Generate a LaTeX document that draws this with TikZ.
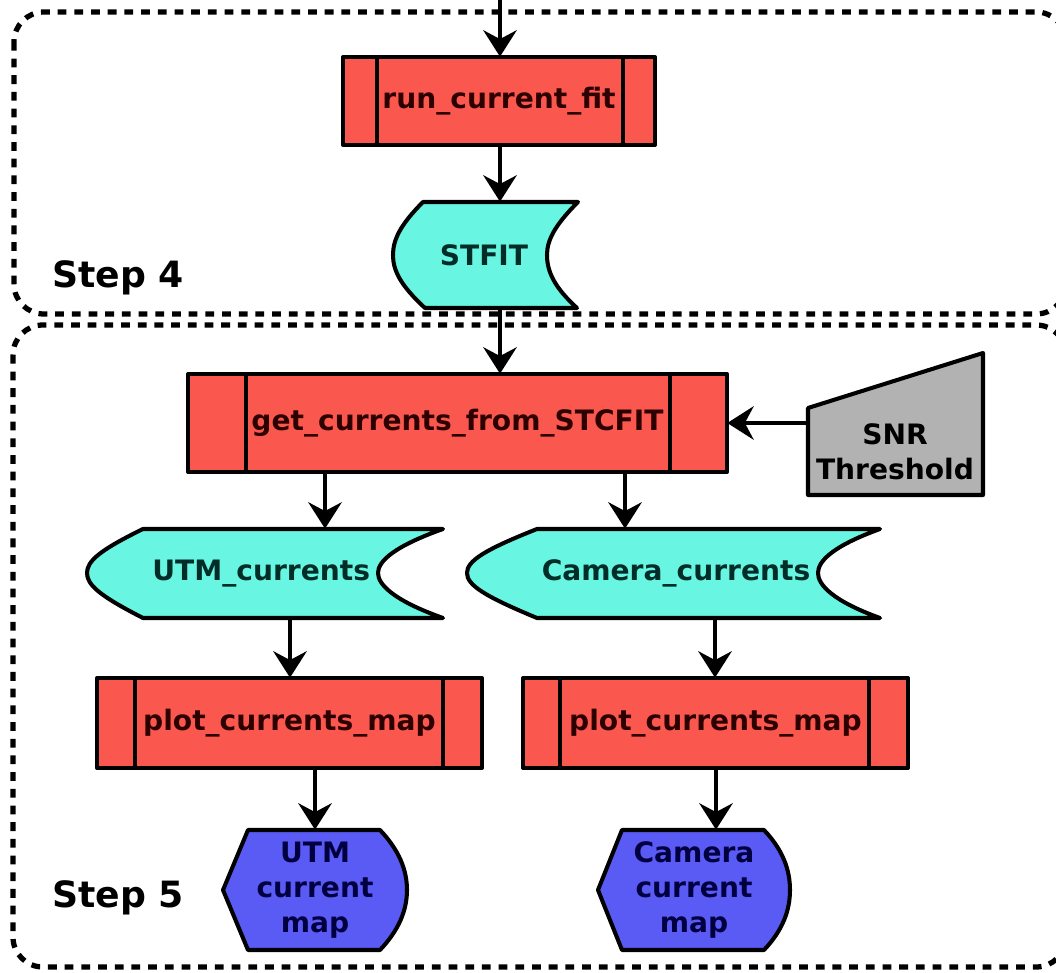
\documentclass[tikz,border=0pt]{standalone}
\usepackage{fontspec}
\setmainfont{DejaVu Sans}
\usetikzlibrary{arrows.meta}
\definecolor{boxred}{RGB}{250,88,78}
\definecolor{redtxt}{RGB}{45,0,0}
\definecolor{datacyan}{RGB}{104,245,225}
\definecolor{cyantxt}{RGB}{0,45,40}
\definecolor{dispblue}{RGB}{90,90,245}
\definecolor{bluetxt}{RGB}{0,0,65}
\definecolor{inpgray}{RGB}{178,178,178}
\begin{document}
\begin{tikzpicture}[x=0.02cm,y=-0.02cm,
  shp/.style={line width=2.3pt, draw=black, line join=round},
  proc/.style={shp, fill=boxred},
  lbl/.style={inner sep=0pt, font=\bfseries\fontsize{16pt}{20pt}\selectfont, align=center},
  steplbl/.style={inner sep=0pt, font=\bfseries\fontsize{20.6pt}{24pt}\selectfont},
  arr/.style={line width=2.3pt, -{Stealth[length=15pt,width=19pt,inset=5pt]}},
  frm/.style={line width=3pt, dash pattern=on 5pt off 4.5pt, rounded corners=17pt}]
\useasboundingbox (0,0) rectangle (1056,973);
\clip (0,0) rectangle (1056,973);

% frames
\draw[frm] (14,12) rectangle (1066,314);
\draw[frm] (13,325) rectangle (1066,967);

% ---- shapes ----
% run_current_fit
\draw[proc] (343,57) rectangle (655,145);
\draw[shp] (377,57) -- (377,145) (623,57) -- (623,145);
% STFIT
\draw[shp, fill=datacyan] (423,202) -- (578,202)
  .. controls (555,225) and (547,240) .. (547,255)
  .. controls (547,272) and (555,288) .. (577,308)
  -- (425,308)
  .. controls (400,285) and (393,270) .. (393,255)
  .. controls (393,240) and (400,225) .. (423,202) -- cycle;
% get_currents_from_STCFIT
\draw[proc] (188,374) rectangle (727,472);
\draw[shp] (246,374) -- (246,472) (670,374) -- (670,472);
% SNR threshold
\draw[shp, fill=inpgray] (808,408) -- (983,353) -- (983,495) -- (808,495) -- cycle;
% UTM_currents
\draw[shp, fill=datacyan] (143,529) -- (443,529)
  .. controls (395,546) and (378,561) .. (378,573)
  .. controls (378,585) and (395,601) .. (443,618)
  -- (143,618)
  .. controls (100,596) and (87,585) .. (87,573)
  .. controls (87,561) and (100,550) .. (143,529) -- cycle;
% Camera_currents
\draw[shp, fill=datacyan] (537,529) -- (880,529)
  .. controls (833,546) and (818,561) .. (818,573)
  .. controls (818,585) and (833,601) .. (880,618)
  -- (537,618)
  .. controls (484,596) and (467,585) .. (467,573)
  .. controls (467,561) and (484,550) .. (537,529) -- cycle;
% plot boxes
\draw[proc] (97,678) rectangle (482,768);
\draw[shp] (135,678) -- (135,768) (443,678) -- (443,768);
\draw[proc] (523,678) rectangle (908,768);
\draw[shp] (560,678) -- (560,768) (869,678) -- (869,768);
% displays
\draw[shp, fill=dispblue] (248,830) -- (380,830)
  .. controls (399,850) and (407,870) .. (407,890)
  .. controls (407,910) and (399,930) .. (380,950)
  -- (248,950) -- (223,890) -- cycle;
\draw[shp, fill=dispblue] (622,830) -- (764,830)
  .. controls (783,850) and (790,870) .. (790,890)
  .. controls (790,910) and (783,930) .. (764,950)
  -- (622,950) -- (598,890) -- cycle;

% ---- nodes (text) ----
\node[lbl, text=redtxt, minimum width=6.24cm, minimum height=1.76cm] (rcf) at (499,101) {run\_current\_fit};
\node[lbl, text=cyantxt, minimum width=3.7cm, minimum height=2.12cm] (stfit) at (484,255) {STFIT};
\node[lbl, text=redtxt, minimum width=10.78cm, minimum height=1.96cm] (gc) at (457.5,423) {get\_currents\_from\_STCFIT};
\node[lbl, text=black, minimum width=3.5cm, minimum height=2.84cm] (snr) at (895.5,424) {};
\node[lbl, text=black] (snrt) at (895,452) {SNR\\Threshold};
\node[lbl, text=cyantxt, minimum width=7.12cm, minimum height=1.78cm] (utm) at (265,573.5) {\hspace*{-0.15cm}UTM\_currents};
\node[lbl, text=cyantxt, minimum width=8.26cm, minimum height=1.78cm] (cam) at (673.5,573.5) {\hspace*{0.1cm}Camera\_currents};
\node[lbl, text=redtxt, minimum width=7.7cm, minimum height=1.8cm] (p1) at (289.5,723) {plot\_currents\_map};
\node[lbl, text=redtxt, minimum width=7.7cm, minimum height=1.8cm] (p2) at (715.5,723) {plot\_currents\_map};
\node[lbl, text=bluetxt, minimum width=3.68cm, minimum height=2.4cm] (h1) at (315,890) {UTM\\current\\map};
\node[lbl, text=bluetxt, minimum width=3.84cm, minimum height=2.4cm] (h2) at (694,890) {Camera\\current\\map};

\node[steplbl, anchor=base west] (s4) at (52,288) {Step 4};
\node[steplbl, anchor=base west] (s5) at (52,907) {Step 5};

% ---- connectors ----
\coordinate (topin) at (500,0);
\coordinate (c1) at (325,0);
\coordinate (c2) at (625,0);
\coordinate (c3) at (290,0);
\coordinate (c4) at (715,0);
\coordinate (c5) at (315,0);
\coordinate (c6) at (716,0);
\draw[arr] (topin) -- (rcf.north -| topin);
\draw[arr] (rcf.south -| topin) -- (stfit.north -| topin);
\draw[arr] (stfit.south -| topin) -- (gc.north -| topin);
\draw[arr] (snr.west |- gc.east) -- (gc.east);
\draw[arr] (gc.south -| c1) -- (utm.north -| c1);
\draw[arr] (gc.south -| c2) -- (cam.north -| c2);
\draw[arr] (utm.south -| c3) -- (p1.north -| c3);
\draw[arr] (cam.south -| c4) -- (p2.north -| c4);
\draw[arr] (p1.south -| c5) -- (h1.north -| c5);
\draw[arr] (p2.south -| c6) -- (h2.north -| c6);
\end{tikzpicture}
\end{document}
